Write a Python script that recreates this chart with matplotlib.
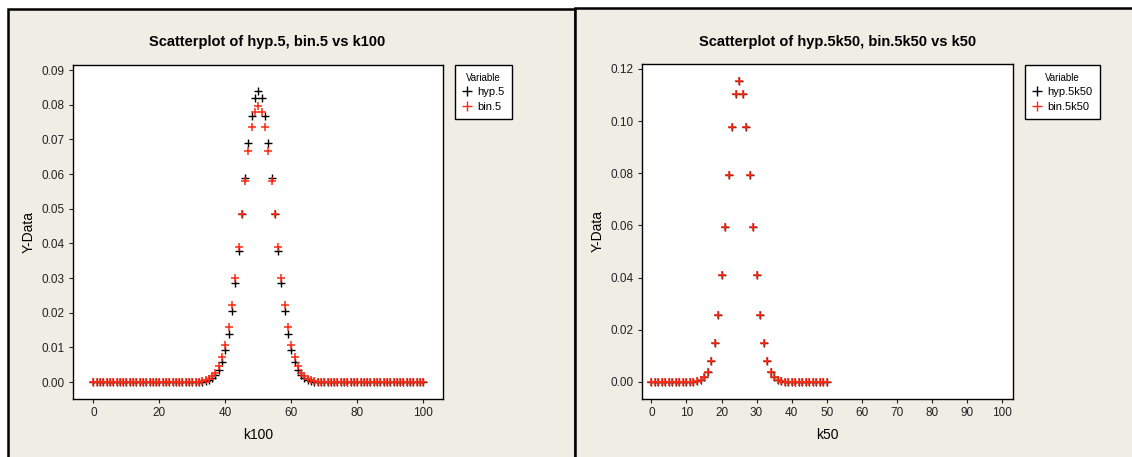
import matplotlib.pyplot as plt
from matplotlib.patches import Rectangle
from matplotlib.lines import Line2D

plt.rcParams['font.family'] = ['Liberation Sans', 'DejaVu Sans']

# left panel: k100, hyp.5 and bin.5
k100 = list(range(0, 101))
hyp5 = [0.0] * 33 + [
    0.0001, 0.0003, 0.0006, 0.0011, 0.0020, 0.0034, 0.0057, 0.0092, 0.0140, 0.0204,
    0.0285, 0.0379, 0.0484, 0.0590, 0.0689, 0.0769, 0.0821, 0.0840, 0.0821, 0.0769,
    0.0689, 0.0590, 0.0484, 0.0379, 0.0285, 0.0204, 0.0140, 0.0092, 0.0057, 0.0034,
    0.0020, 0.0011, 0.0006, 0.0003, 0.0001] + [0.0] * 33
bin5 = [0.0] * 31 + [
    0.0001, 0.0001, 0.0002, 0.0005, 0.0009, 0.0016, 0.0027, 0.0045, 0.0071, 0.0108,
    0.0159, 0.0223, 0.0301, 0.0390, 0.0485, 0.0580, 0.0666, 0.0735, 0.0780, 0.0796,
    0.0780, 0.0735, 0.0666, 0.0580, 0.0485, 0.0390, 0.0301, 0.0223, 0.0159, 0.0108,
    0.0071, 0.0045, 0.0027, 0.0016, 0.0009, 0.0005, 0.0002, 0.0001, 0.0001] + [0.0] * 31

# right panel: k50, hyp.5k50 and bin.5k50
k50 = list(range(0, 51))
hyp5k50 = [0.0] * 12 + [
    0.0001, 0.0002, 0.0007, 0.0017, 0.0038, 0.0078, 0.0148, 0.0257, 0.0408, 0.0593,
    0.0794, 0.0976, 0.1105, 0.1152, 0.1105, 0.0976, 0.0794, 0.0593, 0.0408, 0.0257,
    0.0148, 0.0078, 0.0038, 0.0017, 0.0007, 0.0002, 0.0001] + [0.0] * 12
bin5k50 = [0.0] * 12 + [
    0.0001, 0.0002, 0.0007, 0.0017, 0.0038, 0.0078, 0.0148, 0.0257, 0.0408, 0.0593,
    0.0794, 0.0976, 0.1105, 0.1152, 0.1105, 0.0976, 0.0794, 0.0593, 0.0408, 0.0257,
    0.0148, 0.0078, 0.0038, 0.0017, 0.0007, 0.0002, 0.0001] + [0.0] * 12

BG = '#f0ede4'
RED = '#ff2a14'
W, H = 1132, 457

fig = plt.figure(figsize=(W / 100, H / 100), dpi=100, facecolor='white')

# panel backgrounds (behind the axes)
fig.add_artist(Rectangle((8 / W, -0.02), (575 - 8) / W, (457 - 9) / H + 0.02,
                         transform=fig.transFigure, facecolor=BG, edgecolor='black',
                         lw=1.8, zorder=-5))
fig.add_artist(Rectangle((575 / W, -0.02), (1140 - 575) / W, (457 - 8) / H + 0.02,
                         transform=fig.transFigure, facecolor=BG, edgecolor='black',
                         lw=1.8, zorder=-5))


def fig_rect(x0, y0, x1, y1):
    return [x0 / W, 1 - y1 / H, (x1 - x0) / W, (y1 - y0) / H]


def make_panel(rect, x, ys, names, xlim, ylim, xticks, yticks, xlabel, title, title_x, leg_x):
    ax = fig.add_axes(rect)
    ax.set_facecolor('white')
    ax.plot(x, ys[0], linestyle='none', marker='+', color='black', markersize=6, markeredgewidth=1)
    ax.plot(x, ys[1], linestyle='none', marker='+', color=RED, markersize=6.3, markeredgewidth=1.1)
    ax.set_xlim(*xlim)
    ax.set_ylim(*ylim)
    ax.set_xticks(xticks)
    ax.set_yticks(yticks)
    ax.set_yticklabels(['%.2f' % v for v in yticks])
    ax.tick_params(direction='out', length=3, width=0.8, labelsize=8.5, pad=3, colors='#222222')
    for s in ax.spines.values():
        s.set_linewidth(1.0)
        s.set_color('black')
    ax.set_xlabel(xlabel, fontsize=10, labelpad=6)
    ax.set_ylabel('Y-Data', fontsize=10, labelpad=4)
    fig.text(title_x / W, 1 - 42 / H, title, ha='center', va='center', fontsize=10.5,
             fontweight='bold')
    handles = [Line2D([], [], linestyle='none', marker='+', color='black', markersize=7),
               Line2D([], [], linestyle='none', marker='+', color=RED, markersize=7)]
    leg = fig.legend(handles, names, title='Variable', loc='upper left',
                     bbox_to_anchor=(leg_x / W, 1 - 65 / H), fancybox=False, edgecolor='black',
                     framealpha=1, borderaxespad=0, fontsize=8, title_fontsize=7,
                     handlelength=0.8, handletextpad=0.5, labelspacing=0.4, borderpad=0.7)
    leg.get_frame().set_linewidth(1.0)
    return ax


make_panel(fig_rect(73, 65, 443, 399), k100, [hyp5, bin5], ['hyp.5', 'bin.5'],
           (-6.2, 106), (-0.0049, 0.0915), list(range(0, 101, 20)),
           [0.00, 0.01, 0.02, 0.03, 0.04, 0.05, 0.06, 0.07, 0.08, 0.09],
           'k100', 'Scatterplot of hyp.5, bin.5 vs k100', 267, 455)

make_panel(fig_rect(642, 64, 1013, 399), k50, [hyp5k50, bin5k50], ['hyp.5k50', 'bin.5k50'],
           (-2.7, 103.2), (-0.0066, 0.1219), list(range(0, 101, 10)),
           [0.00, 0.02, 0.04, 0.06, 0.08, 0.10, 0.12],
           'k50', 'Scatterplot of hyp.5k50, bin.5k50 vs k50', 838, 1025)

fig.savefig('out.png', dpi=100, facecolor='white')
